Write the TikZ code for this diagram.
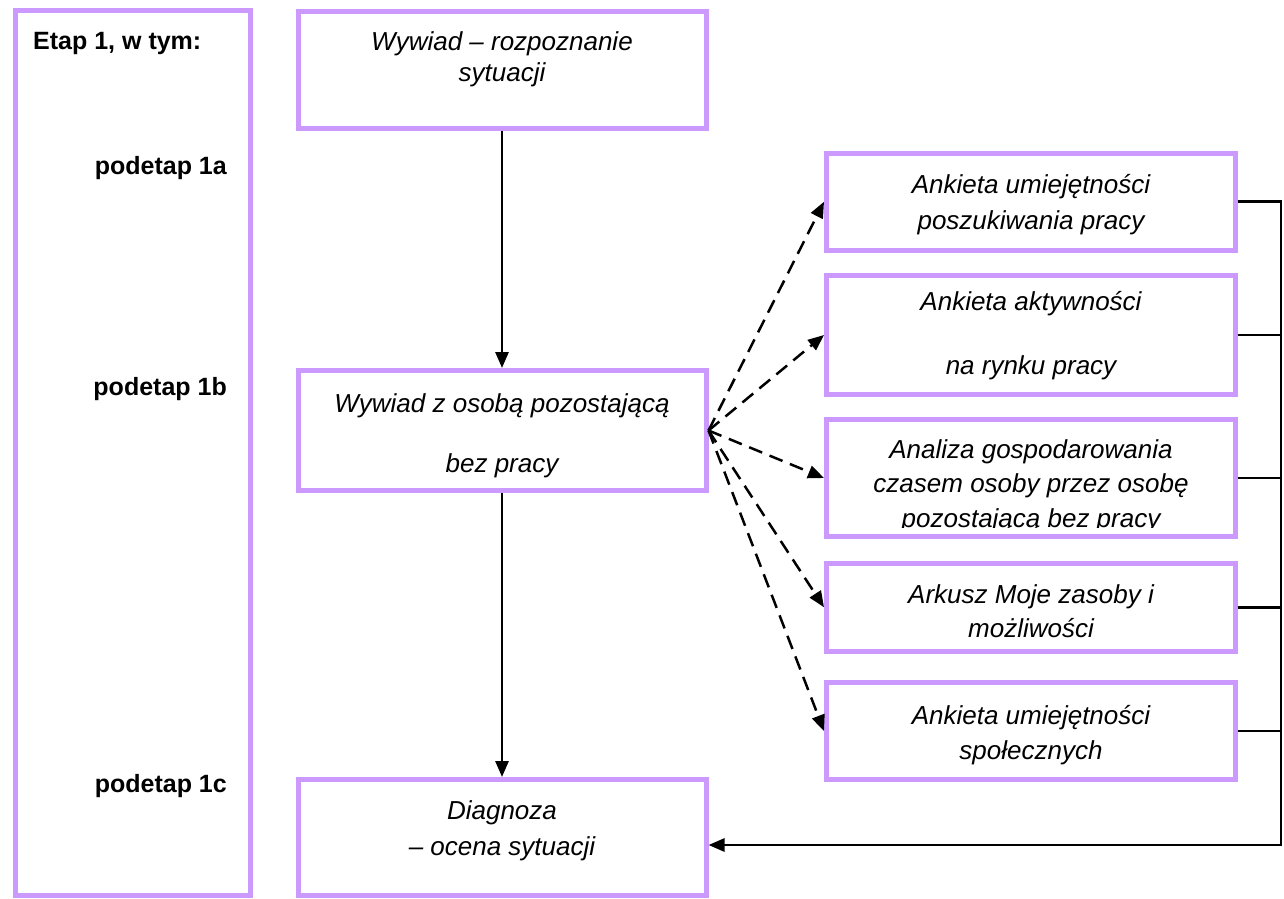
\documentclass[tikz,border=0pt]{standalone}
\usepackage{fontspec}
\setmainfont{Liberation Sans}
\usetikzlibrary{arrows.meta}
\definecolor{lav}{RGB}{204,153,255}

\begin{document}
\begin{tikzpicture}[x=1pt,y=-1pt,
  frame/.style 2 args={draw=lav,line width=5pt,rectangle,inner sep=0pt,
    minimum width=#1,minimum height=#2},
  txt/.style={font=\fontsize{26}{#1}\selectfont\itshape,align=center,
    anchor=base,inner sep=0pt},
  lbl/.style={font=\fontsize{25}{30}\selectfont\bfseries,inner sep=0pt},
  conn/.style={line width=2.8pt,draw=black},
  arr/.style={-{Triangle[length=16pt,width=13pt]}},
  dsh/.style={line width=2.5pt,dash pattern=on 14pt off 8pt,
    -{Triangle[length=16pt,width=13pt]}}]
\useasboundingbox (0,0) rectangle (1284,898);

% stage column
\node[frame={235.5pt}{885pt}] (stage) at (132.75,453) {};
\node[lbl,anchor=base west] (etap) at (33,49) {Etap 1, w tym:};
\node[lbl,anchor=base east] (p1a) at (227,174) {podetap 1a};
\node[lbl,anchor=base east] (p1b) at (227,395) {podetap 1b};
\node[lbl,anchor=base east] (p1c) at (227,792) {podetap 1c};

% main sequence (text nodes are placed by the baseline of their last line)
\node[frame={408pt}{117pt}] (top) at (502,69.5) {};
\node[txt=31] (ttop) at (502,81) {Wywiad – rozpoznanie\\sytuacji};
\node[frame={408pt}{120pt}] (mid) at (502,430.5) {};
\node[txt=60] (tmid) at (502,472) {Wywiad z osobą pozostającą\\bez pracy};
\node[frame={408pt}{116pt}] (diag) at (502,837.5) {};
\node[txt=36] (tdiag) at (502,855) {Diagnoza\\– ocena sytuacji};

% tools
\node[frame={408.5pt}{97.5pt}] (b1) at (1030.75,201.75) {};
\node[txt=36] (tb1) at (1031,229) {Ankieta umiejętności\\poszukiwania pracy};
\node[frame={408.5pt}{119pt}] (b2) at (1030.75,335) {};
\node[txt=64] (tb2) at (1031,374) {Ankieta aktywności\\na rynku pracy};
\node[frame={408.5pt}{117pt}] (b3) at (1030.75,478) {};
\begin{scope}
  \clip (829,422) rectangle (1233,527.5);
  \node[txt=34.5] (tb3) at (1031,527) {Analiza gospodarowania\\czasem osoby przez osobę\\pozostającą bez pracy};
\end{scope}
\node[frame={408.5pt}{87.5pt}] (b4) at (1030.75,607.25) {};
\node[txt=34] (tb4) at (1031,637) {Arkusz Moje zasoby i\\możliwości};
\node[frame={408.5pt}{97pt}] (b5) at (1030.75,731) {};
\node[txt=35] (tb5) at (1031,759) {Ankieta umiejętności\\społecznych};

% flow arrows
\draw[conn,arr] (top.south) -- (mid.north);
\draw[conn,arr] (mid.south) -- (diag.north);
\foreach \b in {b1,b2,b3,b4,b5}
  \draw[dsh] (mid.east) -- (\b.west);

% return bus
\coordinate (bb) at (1281,845);
\draw[conn,arr] (b1.east) -| (bb) -- (bb -| diag.east);
\foreach \b in {b2,b3,b4,b5}
  \draw[conn] (\b.east) -- (\b.east -| bb);
\end{tikzpicture}
\end{document}
